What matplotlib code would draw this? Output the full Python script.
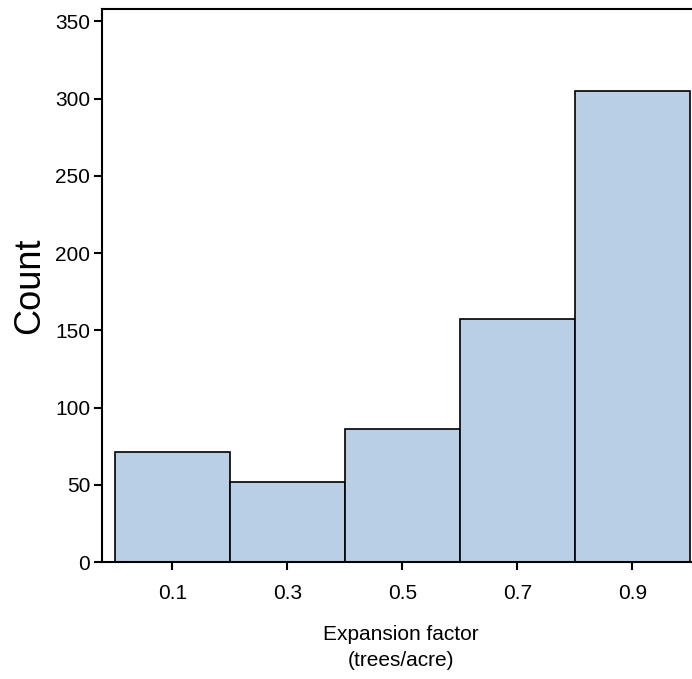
import matplotlib
matplotlib.use("Agg")
import matplotlib.pyplot as plt

plt.rcParams['font.family'] = ['Liberation Sans', 'DejaVu Sans']

# Histogram bins of expansion factor and their counts
bin_edges = [0.0, 0.2, 0.4, 0.6, 0.8, 1.0]
counts = [71, 52, 86, 157, 305]
x_ticks = [0.1, 0.3, 0.5, 0.7, 0.9]
x_tick_labels = ["0.1", "0.3", "0.5", "0.7", "0.9"]
y_ticks = [0, 50, 100, 150, 200, 250, 300, 350]

W, H = 692, 679
fig = plt.figure(figsize=(W / 100, H / 100), dpi=100)
left, right, top, bottom = 102, 700, 9, 562
ax = fig.add_axes([left / W, (H - bottom) / H, (right - left) / W, (bottom - top) / H])

widths = [bin_edges[i + 1] - bin_edges[i] for i in range(len(counts))]
ax.bar(bin_edges[:-1], counts, width=widths, align='edge',
       color='#b9cfe5', edgecolor='black', linewidth=1.2)

ax.set_xlim(-0.0226, 1.0174)
ax.set_ylim(0, 358)
ax.set_xticks(x_ticks)
ax.set_xticklabels(x_tick_labels)
ax.set_yticks(y_ticks)

for s in ax.spines.values():
    s.set_linewidth(1.5)
ax.spines['right'].set_visible(False)

ax.tick_params(axis='both', direction='out', length=5.5, width=1.5,
               labelsize=15, pad=3, colors='black')
ax.tick_params(axis='x', pad=10)

ax.set_ylabel("Count", fontsize=26, labelpad=6)
ax.set_xlabel("Expansion factor\n(trees/acre)", fontsize=15, labelpad=16,
              linespacing=1.5)

fig.savefig("out.png", dpi=100)
